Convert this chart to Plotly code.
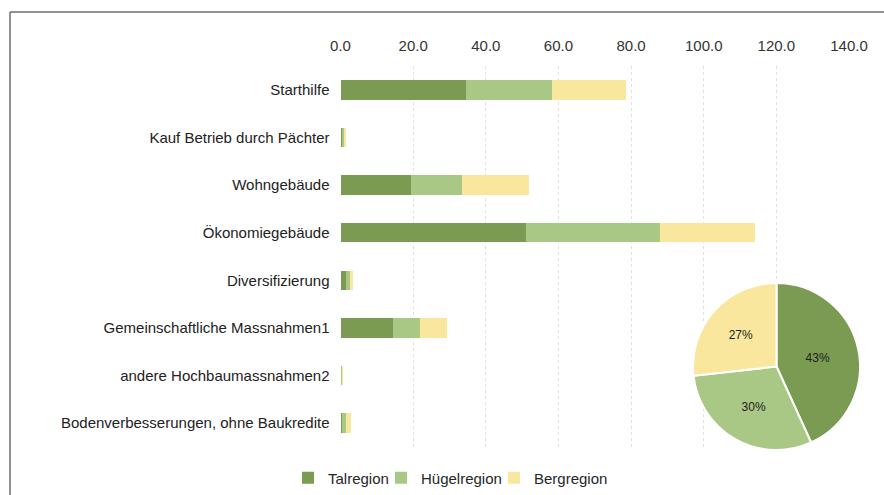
import plotly.graph_objects as go

categories = [
    "Starthilfe",
    "Kauf Betrieb durch Pächter",
    "Wohngebäude",
    "Ökonomiegebäude",
    "Diversifizierung",
    "Gemeinschaftliche Massnahmen1",
    "andere Hochbaumassnahmen2",
    "Bodenverbesserungen, ohne Baukredite",
]
talregion = [34.6, 0.3, 19.5, 51.2, 1.4, 14.4, 0.2, 0.3]
huegelregion = [23.6, 0.7, 14.0, 36.8, 1.1, 7.4, 0.1, 1.1]
bergregion = [20.4, 0.6, 18.3, 26.2, 0.9, 7.6, 0.1, 1.4]
series_names = ["Talregion", "Hügelregion", "Bergregion"]
colors = ["#7b9a52", "#a9c785", "#f8e79c"]
x_ticks = [0, 20, 40, 60, 80, 100, 120, 140]

W, H = 884, 495
FONT = "Liberation Sans, Arial, sans-serif"
legend_ids = ["legend", "legend2", "legend3"]
legend_text_x = [328, 421, 534]

fig = go.Figure()
for name, vals, col, lg in zip(series_names, [talregion, huegelregion, bergregion], colors, legend_ids):
    fig.add_trace(go.Bar(
        y=categories, x=vals, name=name, orientation="h",
        marker=dict(color=col, line=dict(width=0)), width=0.41, legend=lg,
    ))

totals = [sum(talregion), sum(huegelregion), sum(bergregion)]
fig.add_trace(go.Pie(
    labels=series_names, values=totals, sort=False, direction="clockwise",
    rotation=0, marker=dict(colors=colors, line=dict(color="white", width=2)),
    textinfo="percent", texttemplate="%{percent:.0%}", textposition="inside",
    insidetextfont=dict(family=FONT, size=12, color="#1e1e1e"),
    showlegend=False, hoverinfo="label+value+percent",
    domain=dict(x=[693 / W, 860 / W], y=[1 - 450 / H, 1 - 283 / H]),
))

legend_common = dict(
    orientation="h", xanchor="left", y=1 - 478 / H, yanchor="middle",
    font=dict(size=15, color="#262626"), bgcolor="rgba(0,0,0,0)", itemwidth=30,
)

fig.update_layout(
    width=W, height=H, barmode="stack",
    margin=dict(l=0, r=0, t=0, b=0),
    paper_bgcolor="white", plot_bgcolor="white",
    font=dict(family=FONT, size=15, color="#262626"),
    xaxis=dict(
        side="top", range=[0, 140], tickvals=x_ticks, tickformat=".1f",
        domain=[340.5 / W, 849 / W], showgrid=True, gridcolor="#e2e2e2",
        gridwidth=1, griddash="dot", zeroline=False, showline=False, ticks="",
        automargin=False, ticklabelstandoff=11,
        tickfont=dict(size=15, color="#333"),
    ),
    yaxis=dict(
        autorange="reversed", domain=[1 - 446.8 / H, 1 - 66.2 / H],
        showgrid=False, zeroline=False, showline=False, ticks="",
        automargin=False, ticklabelstandoff=10,
        tickfont=dict(size=15, color="#222"),
    ),
    legend=dict(legend_common, x=(legend_text_x[0] - 40) / W),
    legend2=dict(legend_common, x=(legend_text_x[1] - 40) / W),
    legend3=dict(legend_common, x=(legend_text_x[2] - 40) / W),
    shapes=[
        dict(type="line", xref="paper", yref="paper", x0=10 / W, x1=1.0,
             y0=1 - 12 / H, y1=1 - 12 / H, line=dict(color="#6e6e6e", width=1.5)),
        dict(type="line", xref="paper", yref="paper", x0=10 / W, x1=10 / W,
             y0=0, y1=1 - 12 / H, line=dict(color="#6e6e6e", width=1.5)),
    ],
)

fig.write_html("out.html", config={"displayModeBar": False},
               post_script="document.body.style.margin='0';")
